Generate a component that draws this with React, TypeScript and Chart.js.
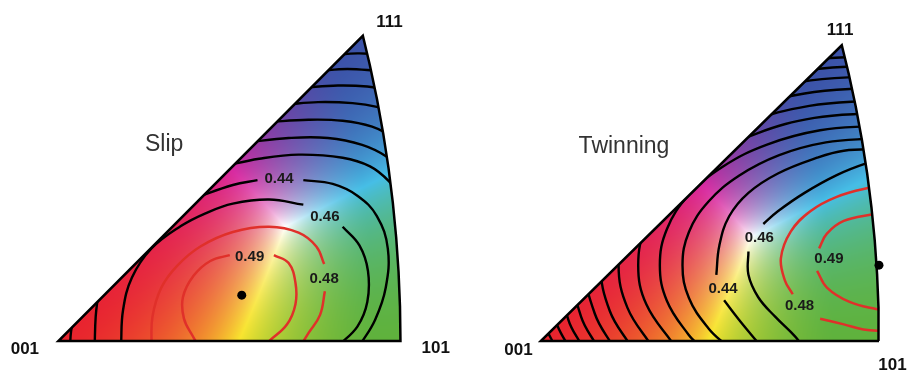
import React, { useEffect, useRef } from 'react';
import { Chart, registerables } from 'chart.js';

Chart.register(...registerables);

type P = [number, number];

// ---- shared geometry (units: 001 -> 101 edge = 100) ----
const OUTLINE: P[] = [[50, 0], [100, 0], [99.86, 10], [99.44, 20], [98.75, 30], [97.77, 40], [96.52, 50], [94.97, 60], [93.14, 70], [91.02, 80], [89, 88.4], [0, 0], [50, 0]];
const VERTEX_NAMES = ['001', '101', '111'];

// ---- Slip ----
const SLIP_TITLE = 'Slip';
const SLIP_TITLE_POS: P = [30.9, 56.8];
const SLIP_VERTEX_POS: P[] = [[-9.8, -2.3], [110.3, -2.0], [96.8, 92.3]];
const SLIP_LEVELS = ['0.44', '0.46', '0.49', '0.48'];
const SLIP_LEVEL_POS: P[] = [[64.5, 46.9], [77.9, 35.9], [55.9, 24.3], [77.7, 18.1]];
const SLIP_MAX: P = [53.6, 13.3];

const SLIP_049A: P[] = [[50.1, 24.9], [44.4, 23.2], [39.5, 18.9], [36.4, 12.7], [36.7, 6.5], [39.3, 1.4], [41.0, -1.4]];
const SLIP_049B: P[] = [[63.0, 24.9], [67.3, 22.6], [69.3, 16.9], [69.3, 10.7], [66.8, 4.8], [61.6, 0], [59.6, -2.0]];
const SLIP_048A: P[] = [[27.2, -1.4], [27.5, 7.1], [30.1, 15.5], [34.7, 21.8], [41.5, 27.4], [51.0, 31.6], [61.6, 33.1], [70.2, 31.4], [75.4, 27.4], [77.7, 22.3]];
const SLIP_048B: P[] = [[77.9, 14.4], [76.5, 7.6], [73.1, 2.3], [70.8, -1.4]];
const SLIP_046A: P[] = [[18.3, -1.4], [18.9, 9.0], [21.5, 18.4], [27.2, 26.8], [35.8, 33.3], [43.0, 37.0], [51.0, 39.8], [61.6, 41.0], [71.6, 39.5]];
const SLIP_046B: P[] = [[83.1, 33.1], [88.0, 27.7], [90.5, 20.3], [90.3, 11.3], [87.4, 4.2], [81.7, -1.4]];
const SLIP_044A: P[] = [[40.1, 41.5], [51.0, 45.2], [58.2, 46.6]];
const SLIP_044B: P[] = [[71.6, 46.6], [80.2, 45.5], [87.4, 42.1], [93.1, 36.2], [96.3, 26.8], [95.7, 15.5], [92.6, 6.2], [88.0, -1.4]];
const SLIP_044C: P[] = [[10.6, -1.4], [10.9, 7.1], [11.7, 14.1]];
const SLIP_042A: P[] = [[3.4, -1.4], [3.7, 2.8], [4.3, 5.6]];
const SLIP_042B: P[] = [[48.0, 50.6], [58.7, 52.8], [70.2, 54.0], [83.1, 53.1], [91.1, 50.6], [96.6, 46.3], [100.3, 41.0]];
const SLIP_040: P[] = [[55.0, 57.5], [67.3, 58.8], [78.8, 58.8], [88.8, 56.8], [96.0, 53.4], [99.7, 50.0]];
const SLIP_038: P[] = [[61.0, 63.4], [73.1, 64.1], [83.1, 63.8], [91.7, 62.1], [98.3, 59.0]];
const SLIP_036: P[] = [[66.5, 68.5], [75.9, 69.2], [86.0, 68.9], [93.1, 67.8], [97.4, 66.1]];
const SLIP_034: P[] = [[71.5, 73.4], [81.7, 74.0], [90.3, 73.7], [96.0, 72.6]];
const SLIP_032: P[] = [[76.0, 78.2], [84.5, 78.8], [93.7, 78.2]];
const SLIP_030: P[] = [[80.5, 82.8], [87.4, 83.3], [92.6, 83.1]];

const SLIP_RED = [SLIP_049A, SLIP_049B, SLIP_048A, SLIP_048B];
const SLIP_BLACK = [SLIP_046A, SLIP_046B, SLIP_044A, SLIP_044B, SLIP_044C, SLIP_042A, SLIP_042B, SLIP_040, SLIP_038, SLIP_036, SLIP_034, SLIP_032, SLIP_030];

// ---- Twinning ----
const TWIN_TITLE = 'Twinning';
const TWIN_TITLE_POS: P = [24.6, 58.0];
const TWIN_VERTEX_POS: P[] = [[-6.6, -2.7], [104.0, -7.3], [88.5, 93.0]];
const TWIN_LEVELS = ['0.46', '0.44', '0.49', '0.48'];
const TWIN_LEVEL_POS: P[] = [[64.6, 30.9], [53.9, 15.7], [85.2, 24.5], [76.5, 10.5]];
const TWIN_MAX: P = [100.0, 22.7];

const TWIN_049A: P[] = [[100.6, 38.2], [98.3, 37.9], [89.6, 35.9], [84.6, 32.1], [82.3, 27.7]];
const TWIN_049B: P[] = [[81.7, 21.0], [84.6, 16.0], [91.3, 11.7], [99.1, 9.6], [102.0, 9.3]];
const TWIN_048A: P[] = [[102.0, 46.4], [97.1, 45.8], [87.5, 43.1], [79.7, 38.8], [73.9, 32.7], [71.0, 24.8], [72.2, 18.1], [74.5, 14.0]];
const TWIN_048B: P[] = [[82.6, 6.7], [89.6, 5.0], [95.4, 3.5], [102.0, 2.9]];
const TWIN_046A: P[] = [[102.0, 54.5], [96.2, 53.1], [87.5, 49.6], [78.0, 44.3], [70.1, 38.8], [65.8, 35.0]];
const TWIN_046B: P[] = [[61.4, 26.8], [61.4, 19.8], [64.3, 13.1], [69.3, 7.3], [75.1, 1.5], [77.4, -1.5]];
const TWIN_044A: P[] = [[100.6, 57.4], [89.6, 56.9], [81.7, 54.8], [70.1, 50.1], [61.4, 44.3], [55.7, 37.3], [52.8, 28.6], [51.9, 19.8]];
const TWIN_044B: P[] = [[54.2, 12.2], [58.6, 6.4], [63.8, 0], [64.9, -1.5]];
const TWIN_042: P[] = [[55.1, -1.5], [49.6, 3.8], [43.8, 12.9], [41.9, 22.7], [43.8, 32.6], [49.6, 41.7], [58.7, 49.5], [70.5, 55.6], [84.3, 59.4], [99.1, 60.6]];
const TWIN_040: P[] = [[47.0, -1.5], [43.7, 1.9], [37.3, 12.0], [35.2, 22.7], [37.3, 33.5], [43.7, 43.6], [53.9, 52.2], [67.1, 58.8], [82.6, 63.0], [99.1, 64.4]];
const TWIN_038: P[] = [[39.6, -1.5], [31.2, 11.0], [28.8, 22.7], [31.2, 34.5], [38.3, 45.5], [49.4, 54.9], [64.0, 62.1], [80.9, 66.7], [99.1, 68.2]];
const TWIN_036: P[] = [[32.8, -1.5], [25.6, 10.0], [23.0, 22.7], [25.6, 35.5], [33.2, 47.4], [45.3, 57.6], [61.1, 65.4], [79.4, 70.3], [99.1, 72.0]];
const TWIN_034: P[] = [[26.6, -1.5], [20.4, 9.0], [17.7, 22.7], [20.4, 36.5], [28.6, 49.3], [41.5, 60.3], [58.4, 68.7], [78.0, 74.0], [99.1, 75.8]];
const TWIN_032: P[] = [[21.3, -1.5], [16.0, 8.1], [13.0, 22.7], [16.0, 37.4], [24.6, 51.0], [38.3, 62.7], [56.1, 71.7], [76.8, 77.4], [99.1, 79.3]];
const TWIN_030: P[] = [[16.6, -1.5], [11.9, 7.3], [8.9, 22.7], [11.9, 38.2], [21.0, 52.6], [35.3, 65.0], [54.0, 74.5], [75.7, 80.5], [99.1, 82.5]];
const TWIN_028: P[] = [[12.2, -1.5], [8.1, 6.5], [4.9, 22.7], [8.1, 39.0], [17.5, 54.1], [32.5, 67.1], [52.0, 77.0], [74.7, 83.3], [99.1, 85.4]];
const TWIN_026: P[] = [[8.1, -1.5], [4.5, 5.8], [1.2, 22.7], [4.5, 39.7]];
const TWIN_024: P[] = [[4.2, -1.5], [1.2, 5.0], [-2.3, 22.7]];

const TWIN_RED = [TWIN_049A, TWIN_049B, TWIN_048A, TWIN_048B];
const TWIN_BLACK = [TWIN_046A, TWIN_046B, TWIN_044A, TWIN_044B, TWIN_042, TWIN_040, TWIN_038, TWIN_036, TWIN_034, TWIN_032, TWIN_030, TWIN_028, TWIN_026, TWIN_024];

// ---- colour key (IPF colouring) ----
const KEY_R = [232, 35, 45];
const KEY_G = [95, 178, 60];
const KEY_B = [60, 82, 168];
const KEY_Y = [248, 228, 45];
const KEY_C = [70, 190, 230];
const KEY_M = [215, 40, 160];
const KEY_W = [255, 255, 255];
const RED_LINE = '#e0302a';
const FONT = '"Liberation Sans", Arial, Helvetica, sans-serif';

function ipfColor(u: number, v: number, scale: number): number[] {
  const K = 0.0041421356 * scale;
  const X = u * K, Y = v * K;
  const s = X * X + Y * Y;
  const d = 1 + s;
  const x = (2 * X) / d, y = (2 * Y) / d, z = (1 - s) / d;
  let r = Math.max(0, z - x), g = Math.max(0, x - y), b = Math.max(0, y);
  const m = Math.max(r, g, b, 1e-9);
  r = Math.pow(r / m, 1.3); g = Math.pow(g / m, 1.3); b = Math.pow(b / m, 1.3);
  const out = [0, 0, 0];
  for (let k = 0; k < 3; k++) {
    out[k] =
      r * (1 - g) * (1 - b) * KEY_R[k] +
      (1 - r) * g * (1 - b) * KEY_G[k] +
      (1 - r) * (1 - g) * b * KEY_B[k] +
      r * g * (1 - b) * KEY_Y[k] +
      (1 - r) * g * b * KEY_C[k] +
      r * (1 - g) * b * KEY_M[k] +
      r * g * b * KEY_W[k];
  }
  return out;
}

function makePlugin(cfg: any) {
  let img: HTMLCanvasElement | null = null;
  const trace = (chart: any) => {
    const { ctx } = chart;
    const sx = chart.scales.x, sy = chart.scales.y;
    ctx.beginPath();
    OUTLINE.forEach(([u, v], i) => {
      const px = sx.getPixelForValue(u), py = sy.getPixelForValue(v);
      if (i === 0) ctx.moveTo(px, py); else ctx.lineTo(px, py);
    });
    ctx.closePath();
  };
  return {
    id: 'ipf',
    beforeDatasetsDraw(chart: any) {
      const { ctx } = chart;
      const sx = chart.scales.x, sy = chart.scales.y;
      if (!img) {
        const w = Math.round(chart.width), h = Math.round(chart.height);
        img = document.createElement('canvas');
        img.width = w; img.height = h;
        const octx = img.getContext('2d')!;
        const data = octx.createImageData(w, h);
        for (let py = 0; py < h; py++) {
          const v = sy.getValueForPixel(py + 0.5);
          for (let px = 0; px < w; px++) {
            const u = sx.getValueForPixel(px + 0.5);
            const c = ipfColor(u, v, cfg.colorScale);
            const i = (py * w + px) * 4;
            data.data[i] = c[0]; data.data[i + 1] = c[1]; data.data[i + 2] = c[2]; data.data[i + 3] = 255;
          }
        }
        octx.putImageData(data, 0, 0);
      }
      ctx.save();
      trace(chart);
      ctx.clip();
      ctx.drawImage(img, 0, 0, chart.width, chart.height);
      ctx.restore();
    },
    beforeDatasetDraw(chart: any, args: any) {
      const ds: any = chart.data.datasets[args.index];
      if (ds.ipfClip) { chart.ctx.save(); trace(chart); chart.ctx.clip(); }
    },
    afterDatasetDraw(chart: any, args: any) {
      const ds: any = chart.data.datasets[args.index];
      if (ds.ipfClip) chart.ctx.restore();
    },
    afterDatasetsDraw(chart: any) {
      const { ctx } = chart;
      const sx = chart.scales.x, sy = chart.scales.y;
      const put = (t: string, p: P, font: string, color: string) => {
        ctx.save();
        ctx.font = font; ctx.fillStyle = color;
        ctx.textAlign = 'center'; ctx.textBaseline = 'middle';
        ctx.fillText(t, sx.getPixelForValue(p[0]), sy.getPixelForValue(p[1]));
        ctx.restore();
      };
      put(cfg.title, cfg.titlePos, `23px ${FONT}`, '#333');
      VERTEX_NAMES.forEach((t, i) => put(t, cfg.vertexPos[i], `bold 17px ${FONT}`, '#111'));
      cfg.levels.forEach((t: string, i: number) => put(t, cfg.levelPos[i], `bold 15px ${FONT}`, '#1a1a1a'));
    },
  };
}

function IpfChart(props: any) {
  const ref = useRef<HTMLCanvasElement>(null);
  useEffect(() => {
    const xy = (pts: P[]) => pts.map(([x, y]) => ({ x, y }));
    const line = (pts: P[], color: string, w: number) => ({
      data: xy(pts), showLine: true, borderColor: color, borderWidth: w,
      pointRadius: 0, tension: 0.4, fill: false, ipfClip: true,
    });
    const datasets: any[] = [
      { data: xy([props.dot]), showLine: false, pointRadius: 4.5, pointBackgroundColor: '#000', pointBorderColor: '#000', pointBorderWidth: 0 },
      { data: xy(OUTLINE), showLine: true, borderColor: '#000', borderWidth: 2.5, pointRadius: 0, tension: 0, borderJoinStyle: 'miter', fill: false },
      ...props.red.map((c: P[]) => line(c, RED_LINE, 2.5)),
      ...props.black.map((c: P[]) => line(c, '#000', 2.4)),
    ];
    const chart = new Chart(ref.current!, {
      type: 'scatter',
      data: { datasets },
      options: {
        responsive: false,
        animation: false,
        events: [],
        layout: { padding: 0 },
        scales: {
          x: { type: 'linear', min: props.xMin, max: props.xMax, display: false },
          y: { type: 'linear', min: props.yMin, max: props.yMax, display: false },
        },
        plugins: { legend: { display: false }, tooltip: { enabled: false } },
      },
      plugins: [makePlugin(props)],
    } as any);
    return () => chart.destroy();
  }, []);
  return <canvas ref={ref} width={props.width} height={370} style={{ display: 'block', width: props.width, height: 370 }} />;
}

export default function App() {
  return (
    <div style={{ position: 'absolute', left: 0, top: 0, width: 907, height: 370, background: '#fff', display: 'flex' }}>
      <IpfChart
        width={453} xMin={-55 / 3.49} xMax={(453 - 55) / 3.49} yMin={-25 / 3.54} yMax={345 / 3.54}
        red={SLIP_RED} black={SLIP_BLACK} dot={SLIP_MAX} colorScale={1.08}
        title={SLIP_TITLE} titlePos={SLIP_TITLE_POS} vertexPos={SLIP_VERTEX_POS}
        levels={SLIP_LEVELS} levelPos={SLIP_LEVEL_POS}
      />
      <IpfChart
        width={454} xMin={-85 / 3.45} xMax={(454 - 85) / 3.45} yMin={-25 / 3.43} yMax={345 / 3.43}
        red={TWIN_RED} black={TWIN_BLACK} dot={TWIN_MAX} colorScale={1.15}
        title={TWIN_TITLE} titlePos={TWIN_TITLE_POS} vertexPos={TWIN_VERTEX_POS}
        levels={TWIN_LEVELS} levelPos={TWIN_LEVEL_POS}
      />
    </div>
  );
}
